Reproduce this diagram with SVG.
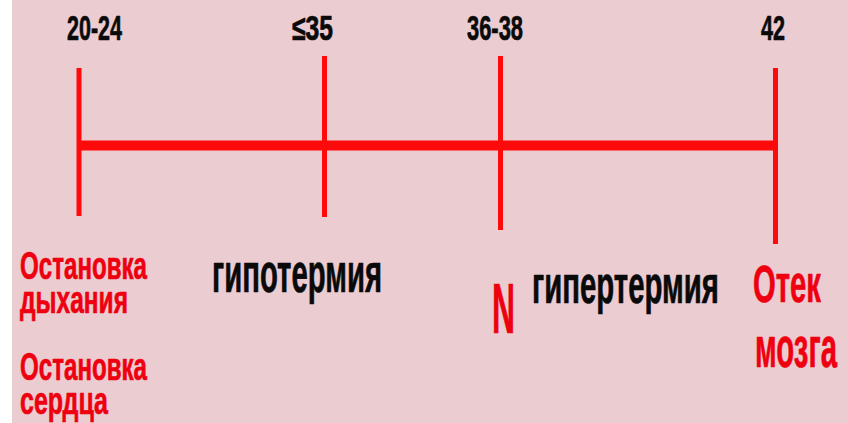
<svg xmlns="http://www.w3.org/2000/svg" width="848" height="423" viewBox="0 0 848 423">
<style>
.t{font-family:"Liberation Sans",Arial,sans-serif;font-weight:bold;stroke-width:0.7;stroke-linejoin:round}
.k{fill:#0a0a0a;stroke:#0a0a0a}
.r{fill:#ee0010;stroke:#ee0010}
.tick{stroke:#ff0a0a;stroke-width:5;fill:none}
.axis{stroke:#ff0a0a;stroke-width:10;fill:none}
</style>
<rect x="0" y="0" width="848" height="423" fill="#ffffff"/>
<rect x="12" y="0" width="836" height="423" fill="#ebcdd1"/>
<g id="connectors">
<line class="axis" x1="77" y1="145.5" x2="778" y2="145.5"/>
</g>
<g id="tick-20-24">
<line class="tick" x1="79" y1="68" x2="79" y2="216"/>
<text class="t k" x="67" y="40" font-size="35" textLength="55" lengthAdjust="spacingAndGlyphs">20-24</text>
</g>
<g id="tick-35">
<line class="tick" x1="324.5" y1="56" x2="324.5" y2="217"/>
<text class="t k" x="292" y="40" font-size="35" textLength="41" lengthAdjust="spacingAndGlyphs">≤35</text>
</g>
<g id="tick-36-38">
<line class="tick" x1="500.5" y1="56" x2="500.5" y2="230"/>
<text class="t k" x="467" y="40" font-size="35" textLength="56" lengthAdjust="spacingAndGlyphs">36-38</text>
</g>
<g id="tick-42">
<line class="tick" x1="775.5" y1="68" x2="775.5" y2="244"/>
<text class="t k" x="761" y="40" font-size="35" textLength="24" lengthAdjust="spacingAndGlyphs">42</text>
</g>
<g id="label-stop">
<text class="t r" x="20" y="279" font-size="39" textLength="127" lengthAdjust="spacingAndGlyphs">Остановка</text>
<text class="t r" x="20" y="313" font-size="39" textLength="108" lengthAdjust="spacingAndGlyphs">дыхания</text>
<text class="t r" x="20" y="380" font-size="39" textLength="127" lengthAdjust="spacingAndGlyphs">Остановка</text>
<text class="t r" x="20" y="414" font-size="39" textLength="88" lengthAdjust="spacingAndGlyphs">сердца</text>
</g>
<g id="label-hypo">
<text class="t k" x="212" y="292" font-size="56" textLength="170" lengthAdjust="spacingAndGlyphs">гипотермия</text>
</g>
<g id="label-n">
<text class="t r" x="492" y="333" font-size="70" textLength="23" lengthAdjust="spacingAndGlyphs">N</text>
</g>
<g id="label-hyper">
<text class="t k" x="532" y="303" font-size="54" textLength="187" lengthAdjust="spacingAndGlyphs">гипертермия</text>
</g>
<g id="label-edema">
<text class="t r" x="753" y="302" font-size="51" textLength="68" lengthAdjust="spacingAndGlyphs">Отек</text>
<text class="t r" x="755" y="367" font-size="57" textLength="82" lengthAdjust="spacingAndGlyphs">мозга</text>
</g>
</svg>
